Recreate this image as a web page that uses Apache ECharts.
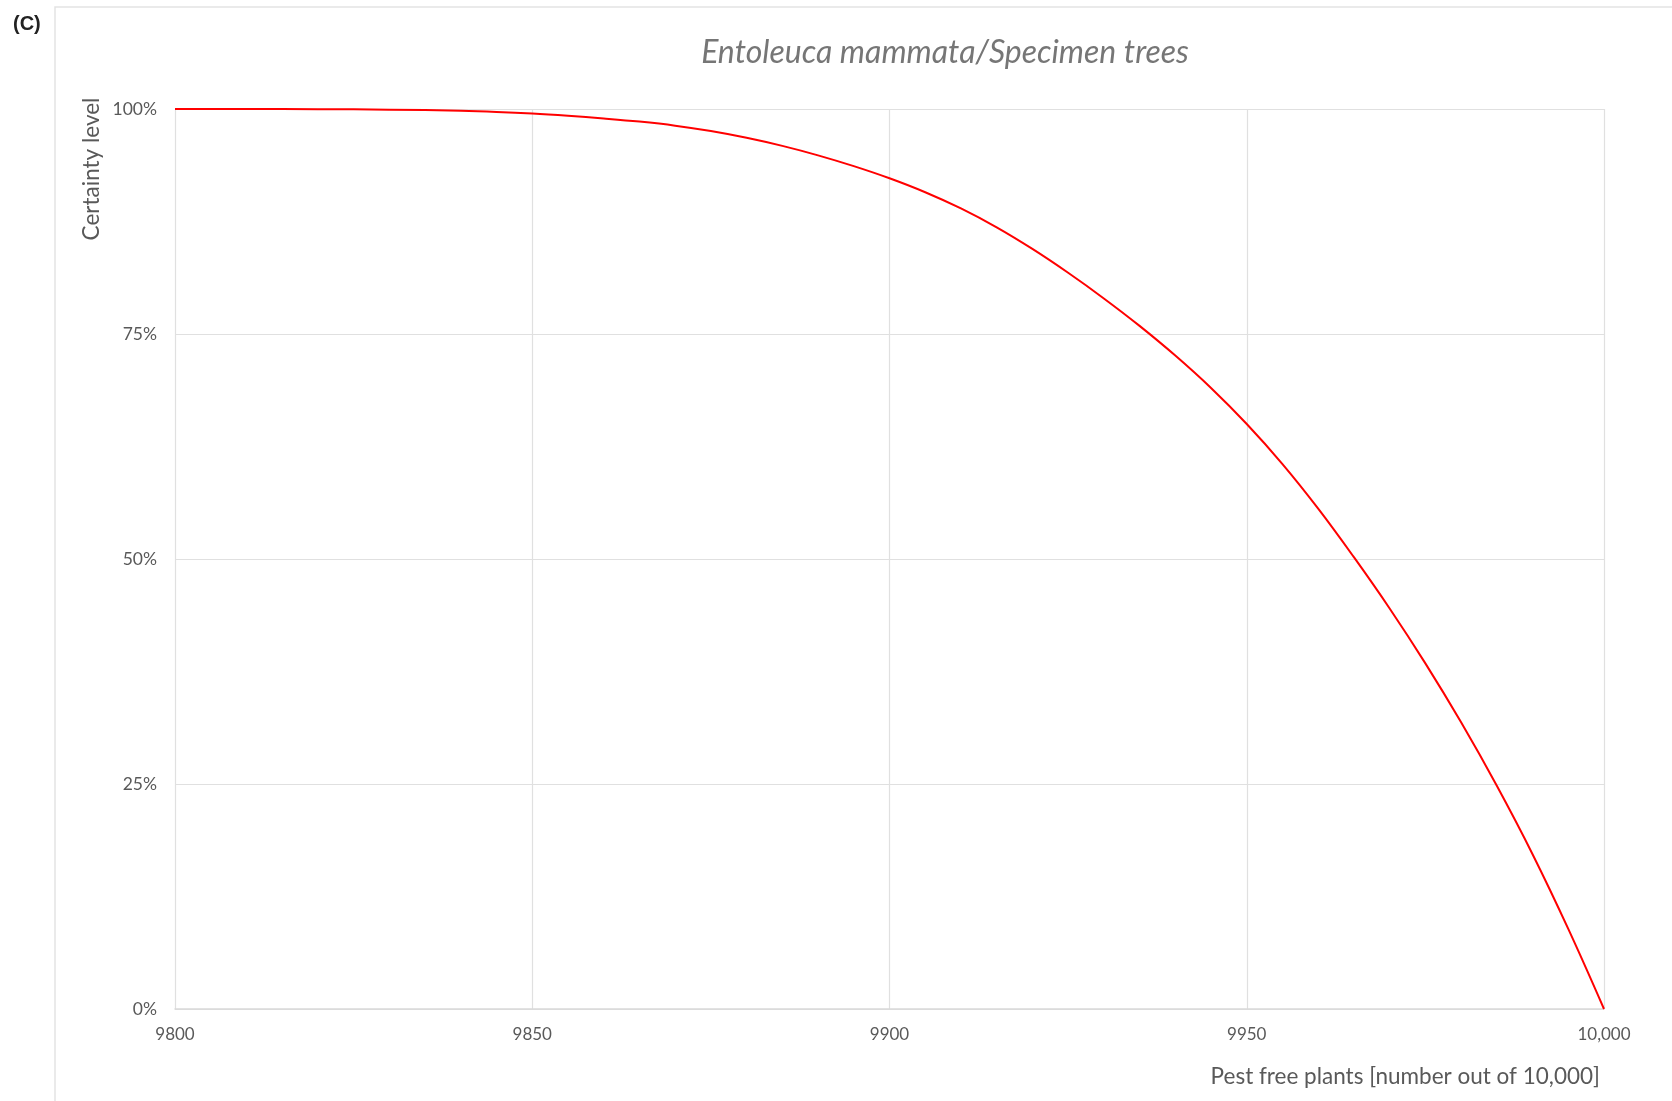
<!DOCTYPE html>
<html>
<head>
<meta charset="utf-8">
<script src="https://cdn.jsdelivr.net/npm/echarts@6/dist/echarts.min.js"></script>
<style>
html,body{margin:0;padding:0;background:#fff;}
#chart{width:1672px;height:1101px;}
</style>
</head>
<body>
<div id="chart"></div>
<script>
var pestFree = [9800, 9810, 9820, 9830, 9840, 9845, 9850, 9855, 9860, 9865, 9870, 9875, 9880, 9885, 9890, 9895, 9900, 9905, 9910, 9915, 9920, 9925, 9930, 9935, 9940, 9945, 9950, 9955, 9960, 9965, 9970, 9975, 9980, 9985, 9990, 9995, 10000];
var certainty = [100, 100, 99.98, 99.93, 99.8, 99.68, 99.5, 99.25, 98.95, 98.6, 98.15, 97.55, 96.8, 95.9, 94.85, 93.65, 92.3, 90.75, 88.95, 86.85, 84.45, 81.8, 78.95, 75.9, 72.6, 69.0, 65.0, 60.55, 55.6, 50.2, 44.5, 38.4, 31.85, 24.8, 17.2, 8.9, 0];
var xTickValues = [9800, 9850, 9900, 9950, 10000];
var xTickLabels = ['9800', '9850', '9900', '9950', '10,000'];
var yTickValues = [0, 25, 50, 75, 100];
var yTickLabels = ['0%', '25%', '50%', '75%', '100%'];
var chartTitle = 'Entoleuca mammata/Specimen trees';
var xAxisTitle = 'Pest free plants [number out of 10,000]';
var yAxisTitle = 'Certainty level';
var panelLabel = '(C)';

var points = pestFree.map(function (x, i) { return [x, certainty[i]]; });
var chart = echarts.init(document.getElementById('chart'), null, {renderer: 'canvas'});
var labelColor = '#595959';
var gridColor = '#e0e0e0';
var fontFam = 'Lato, "Open Sans", sans-serif';

chart.setOption({
  animation: false,
  backgroundColor: '#ffffff',
  title: {
    text: chartTitle,
    left: 945,
    top: 37,
    textAlign: 'center',
    padding: 0,
    textStyle: {fontFamily: fontFam, fontStyle: 'italic', fontWeight: 'normal', fontSize: 32, color: '#767676'}
  },
  grid: {left: 175, right: 68, top: 109, bottom: 92, containLabel: false},
  xAxis: {
    type: 'value',
    min: 9800, max: 10000, interval: 50,
    axisLine: {show: true, lineStyle: {color: '#d9d9d9', width: 1.5}},
    axisTick: {show: false},
    splitLine: {show: true, lineStyle: {color: gridColor, width: 1.2}},
    axisLabel: {
      color: labelColor, fontFamily: fontFam, fontSize: 17, margin: 17,
      formatter: function (v) { var i = xTickValues.indexOf(v); return i >= 0 ? xTickLabels[i] : ''; }
    }
  },
  yAxis: {
    type: 'value',
    min: 0, max: 100, interval: 25,
    axisLine: {show: false},
    axisTick: {show: false},
    splitLine: {show: true, lineStyle: {color: gridColor, width: 1.2}},
    axisLabel: {
      color: labelColor, fontFamily: fontFam, fontSize: 17.5, margin: 18,
      formatter: function (v) { var i = yTickValues.indexOf(v); return i >= 0 ? yTickLabels[i] : ''; }
    }
  },
  series: [{
    type: 'line',
    data: points,
    showSymbol: false,
    smooth: 0.4,
    lineStyle: {color: '#ff0000', width: 2},
    itemStyle: {color: '#ff0000'}
  }],
  graphic: [
    {type: 'rect', silent: true, shape: {x: 55, y: 7, width: 1700, height: 1200},
     style: {fill: 'none', stroke: '#e3e3e3', lineWidth: 1.5}},
    {type: 'text', x: 13, y: 24, silent: true,
     style: {text: panelLabel, fontFamily: '"Liberation Sans", Arial, sans-serif', fontWeight: 'bold', fontSize: 20, fill: '#222222', textVerticalAlign: 'middle', textAlign: 'left'}},
    {type: 'text', x: 92, y: 169, rotation: Math.PI / 2, silent: true,
     style: {text: yAxisTitle, fontFamily: fontFam, fontSize: 22.5, fill: labelColor, textAlign: 'center', textVerticalAlign: 'middle'}},
    {type: 'text', x: 1600, y: 1077, silent: true,
     style: {text: xAxisTitle, fontFamily: fontFam, fontSize: 22.5, fill: labelColor, textAlign: 'right', textVerticalAlign: 'middle'}}
  ]
});
</script>
</body>
</html>
